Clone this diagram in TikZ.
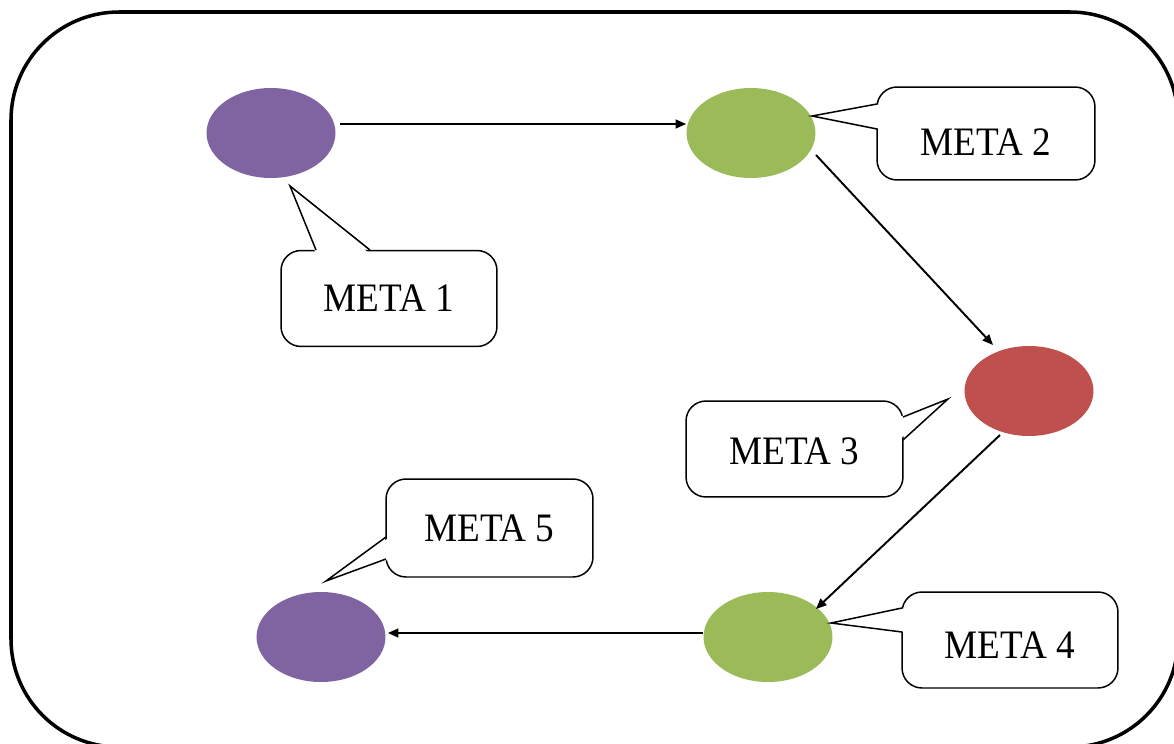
\documentclass[tikz,border=0pt]{standalone}
\usepackage{fontspec}
\setmainfont{Liberation Serif}
\newfontfamily\metafont[FakeStretch=0.92]{Liberation Serif}
\usetikzlibrary{shapes.geometric,arrows.meta}

\definecolor{metapurple}{HTML}{8064A2}
\definecolor{metagreen}{HTML}{9BBB59}
\definecolor{metared}{HTML}{C0504D}

\newcommand{\lowered}[2]{\raisebox{#1}[\height][\depth]{#2}}

\tikzset{
  goal/.style={ellipse, minimum width=2.58cm, minimum height=1.8cm, inner sep=0pt},
  bubble/.style={draw, line width=0.85pt, rounded corners=0.4cm, fill=white,
    minimum width=4.32cm, minimum height=1.92cm, inner sep=0pt,
    font=\metafont\fontsize{23}{26}\selectfont},
  tail/.style={line width=0.85pt, line join=miter},
  link/.style={line width=1.1pt, -{Triangle[length=6pt,width=5pt]}}
}

\begin{document}
\begin{tikzpicture}[x=0.02cm,y=-0.02cm]
  \useasboundingbox (0,0) rectangle (1174,744);
  \clip (0,0) rectangle (1174,744);
  \draw[line width=2pt, rounded corners=2.16cm] (11,12) rectangle (1178,747);

  % the five goals
  \node[goal, fill=metapurple] (g1) at (271,133) {};
  \node[goal, fill=metagreen]  (g2) at (751,133) {};
  \node[goal, fill=metared]    (g3) at (1029,391) {};
  \node[goal, fill=metagreen]  (g4) at (768,637) {};
  \node[goal, fill=metapurple] (g5) at (321,637) {};

  \draw[link] ([shift={(4,-9)}]g1.east) -- ([shift={(0,-9)}]g2.west);
  \draw[link] ([shift={(65,22)}]g2.center) -- ([shift={(-36,-46)}]g3.center);
  \draw[link] ([shift={(-29,44)}]g3.center) -- ([shift={(48,-28)}]g4.center);
  \draw[link] ([shift={(0,-4)}]g4.west) -- ([shift={(2,-4)}]g5.east);

  % callouts
  \node[bubble] (m1) at (389,298.5) {META 1};
  \node[bubble, minimum width=4.36cm, minimum height=1.86cm] (m2) at (986,133.5) {\lowered{-0.18cm}{META 2}};
  \node[bubble, minimum width=4.34cm] (m3) at (794.5,449) {\lowered{-0.04cm}{META 3}};
  \node[bubble] (m4) at (1010,640) {\lowered{-0.1cm}{META 4}};
  \node[bubble, minimum width=4.14cm, minimum height=1.96cm] (m5) at (489.5,528) {META 5};

  \fill[white] (316,254) -- (290,186) -- (370,254) -- cycle;
  \draw[tail] (316,250) -- (290,186) -- (370,250);
  \fill[white] (881,104) -- (812,116) -- (881,129) -- cycle;
  \draw[tail] (877,104) -- (812,116) -- (877,129);
  \fill[white] (899,417) -- (948,399) -- (899,440) -- cycle;
  \draw[tail] (903,417) -- (948,399) -- (903,440);
  \fill[white] (906,608) -- (831,623) -- (906,632) -- cycle;
  \draw[tail] (902,608) -- (831,623) -- (902,632);
  \fill[white] (390,537) -- (326,581) -- (390,559) -- cycle;
  \draw[tail] (386,537) -- (326,581) -- (386,559);
\end{tikzpicture}
\end{document}
